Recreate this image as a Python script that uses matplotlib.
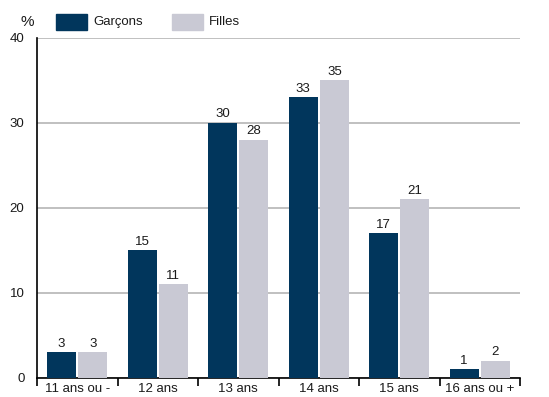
import matplotlib
matplotlib.use("Agg")
import matplotlib.pyplot as plt
import numpy as np

categories = ["11 ans ou -", "12 ans", "13 ans", "14 ans", "15 ans", "16 ans ou +"]
garcons = [3, 15, 30, 33, 17, 1]
filles = [3, 11, 28, 35, 21, 2]
series_names = ["Garçons", "Filles"]
yticks = [0, 10, 20, 30, 40]

plt.rcParams['font.family'] = ['Liberation Sans', 'DejaVu Sans']

dark = "#01365C"
light = "#C9C9D4"
txt = "#1a1a1a"
fs = 9.5

fig = plt.figure(figsize=(5.49, 3.97), dpi=100)
ax = fig.add_axes([37/549, 1 - 377.7/397, (520-37)/549, (377.7-37.7)/397])

x = np.arange(len(categories))
w = 0.36
off = 0.195
b1 = ax.bar(x - off, garcons, w, color=dark, zorder=3)
b2 = ax.bar(x + off, filles, w, color=light, zorder=3)
for bars, vals in ((b1, garcons), (b2, filles)):
    for r, v in zip(bars, vals):
        ax.text(r.get_x() + r.get_width()/2, v + 0.3, str(v), ha='center', va='bottom',
                fontsize=fs, color=txt)

ax.set_xlim(-0.5, len(categories) - 0.5)
ax.set_ylim(0, 40)
ax.set_yticks(yticks)
ax.set_yticklabels([str(t) for t in yticks], fontsize=fs, color=txt)
ax.tick_params(axis='y', length=0, pad=9)
ax.set_xticks(np.arange(len(categories) + 1) - 0.5)
ax.set_xticklabels([])
ax.set_xticks(x, minor=True)
ax.set_xticklabels(categories, minor=True, fontsize=fs, color=txt)
ax.tick_params(axis='x', which='major', length=6, width=1.2, direction='out')
ax.tick_params(axis='x', which='minor', length=0, pad=4)
ax.grid(axis='y', color='#B5B5B5', linewidth=1.2, zorder=0)
ax.set_axisbelow(True)
for s in ['top', 'right']:
    ax.spines[s].set_visible(False)
ax.spines['left'].set_linewidth(1.2)
ax.spines['bottom'].set_linewidth(1.2)

fig.text(27/549, 1 - 22/397, "%", fontsize=11, ha='center', va='center', color=txt)
fig.patches.append(plt.Rectangle((56/549, 1 - 30/397), 31/549, 16/397, transform=fig.transFigure, color=dark))
fig.text(93/549, 1 - 22/397, series_names[0], fontsize=fs, va='center', color=txt)
fig.patches.append(plt.Rectangle((172/549, 1 - 30/397), 31/549, 16/397, transform=fig.transFigure, color=light))
fig.text(209/549, 1 - 22/397, series_names[1], fontsize=fs, va='center', color=txt)

fig.savefig("out.png", dpi=100)
